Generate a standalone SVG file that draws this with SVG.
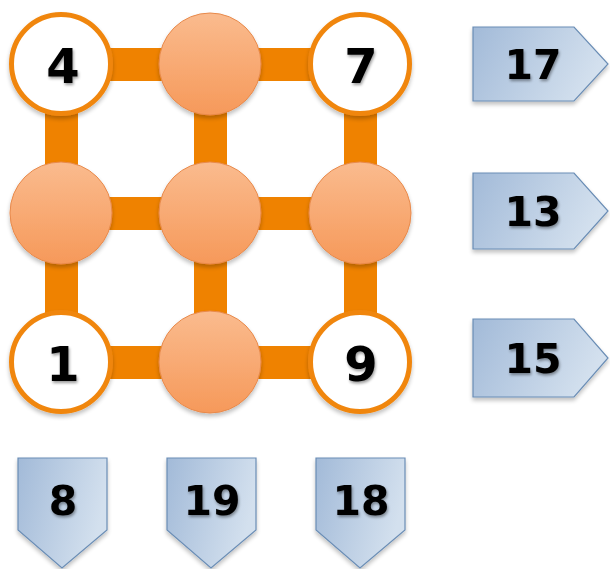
<svg xmlns="http://www.w3.org/2000/svg" width="610" height="569" viewBox="0 0 610 569">
<defs>
<linearGradient id="og" x1="0" y1="0" x2="0" y2="1">
<stop offset="0" stop-color="#FABB8E"/>
<stop offset="1" stop-color="#F6995A"/>
</linearGradient>
<linearGradient id="bg" x1="0" y1="0" x2="1" y2="0.3">
<stop offset="0" stop-color="#A2BAD8"/>
<stop offset="1" stop-color="#D3E0EE"/>
</linearGradient>
<filter id="ts" x="-20%" y="-20%" width="140%" height="150%">
<feGaussianBlur in="SourceAlpha" stdDeviation="1.5"/>
<feOffset dx="1" dy="2" result="b"/>
<feComponentTransfer><feFuncA type="linear" slope="0.4"/></feComponentTransfer>
<feMerge><feMergeNode/><feMergeNode in="SourceGraphic"/></feMerge>
</filter>
<filter id="sh" x="-20%" y="-20%" width="140%" height="150%">
<feGaussianBlur in="SourceAlpha" stdDeviation="2"/>
<feOffset dx="0" dy="3" result="b"/>
<feComponentTransfer><feFuncA type="linear" slope="0.25"/></feComponentTransfer>
<feMerge><feMergeNode/><feMergeNode in="SourceGraphic"/></feMerge>
</filter>
</defs>
<style>
.bar{fill:#EF8200}
.wc{fill:#FFFFFF;stroke:#F0860F;stroke-width:5}
.oc{fill:url(#og);stroke:#E8894A;stroke-width:1}
.ar{fill:url(#bg);stroke:#6A8DB5;stroke-width:1.2}
.num{font-family:"DejaVu Sans",Verdana,sans-serif;font-weight:bold;fill:#000;text-anchor:middle}
.big{font-size:48px}
.mid{font-size:41px}
</style>
<g id="connectors">
<rect class="bar" x="61" y="48" width="299" height="33"/>
<rect class="bar" x="61" y="197" width="299" height="33"/>
<rect class="bar" x="61" y="346" width="299" height="33"/>
<rect class="bar" x="45" y="64" width="33" height="298"/>
<rect class="bar" x="194" y="64" width="33" height="298"/>
<rect class="bar" x="344" y="64" width="33" height="298"/>
</g>
<g id="n4"><circle class="wc" cx="61" cy="64" r="49.5" filter="url(#sh)"/><text class="num big" x="63" y="83" filter="url(#ts)">4</text></g>
<g id="n_t2"><circle class="oc" cx="210" cy="64" r="51" filter="url(#sh)"/></g>
<g id="n7"><circle class="wc" cx="360" cy="64" r="49.5" filter="url(#sh)"/><text class="num big" x="361" y="83" filter="url(#ts)">7</text></g>
<g id="n_m1"><circle class="oc" cx="61" cy="213" r="51" filter="url(#sh)"/></g>
<g id="n_m2"><circle class="oc" cx="210" cy="213" r="51" filter="url(#sh)"/></g>
<g id="n_m3"><circle class="oc" cx="360" cy="213" r="51" filter="url(#sh)"/></g>
<g id="n1"><circle class="wc" cx="61" cy="362" r="49.5" filter="url(#sh)"/><text class="num big" x="63" y="381" filter="url(#ts)">1</text></g>
<g id="n_b2"><circle class="oc" cx="210" cy="362" r="51" filter="url(#sh)"/></g>
<g id="n9"><circle class="wc" cx="360" cy="362" r="49.5" filter="url(#sh)"/><text class="num big" x="361" y="381" filter="url(#ts)">9</text></g>
<g id="r17"><path class="ar" d="M473 27 H574 L608 64 L574 101 H473 Z" filter="url(#sh)"/><text class="num mid" x="533" y="79" filter="url(#ts)">17</text></g>
<g id="r13"><path class="ar" d="M473 173 H574 L608 211 L574 249 H473 Z" filter="url(#sh)"/><text class="num mid" x="533" y="226" filter="url(#ts)">13</text></g>
<g id="r15"><path class="ar" d="M473 319 H574 L608 358 L574 397 H473 Z" filter="url(#sh)"/><text class="num mid" x="533" y="373" filter="url(#ts)">15</text></g>
<g id="b8"><path class="ar" d="M18 458 H107 V530 L62 568 L18 530 Z" filter="url(#sh)"/><text class="num mid" x="63" y="515" filter="url(#ts)">8</text></g>
<g id="b19"><path class="ar" d="M167 458 H256 V530 L211 568 L167 530 Z" filter="url(#sh)"/><text class="num mid" x="212" y="515" filter="url(#ts)">19</text></g>
<g id="b18"><path class="ar" d="M316 458 H405 V530 L360 568 L316 530 Z" filter="url(#sh)"/><text class="num mid" x="361" y="515" filter="url(#ts)">18</text></g>
</svg>
